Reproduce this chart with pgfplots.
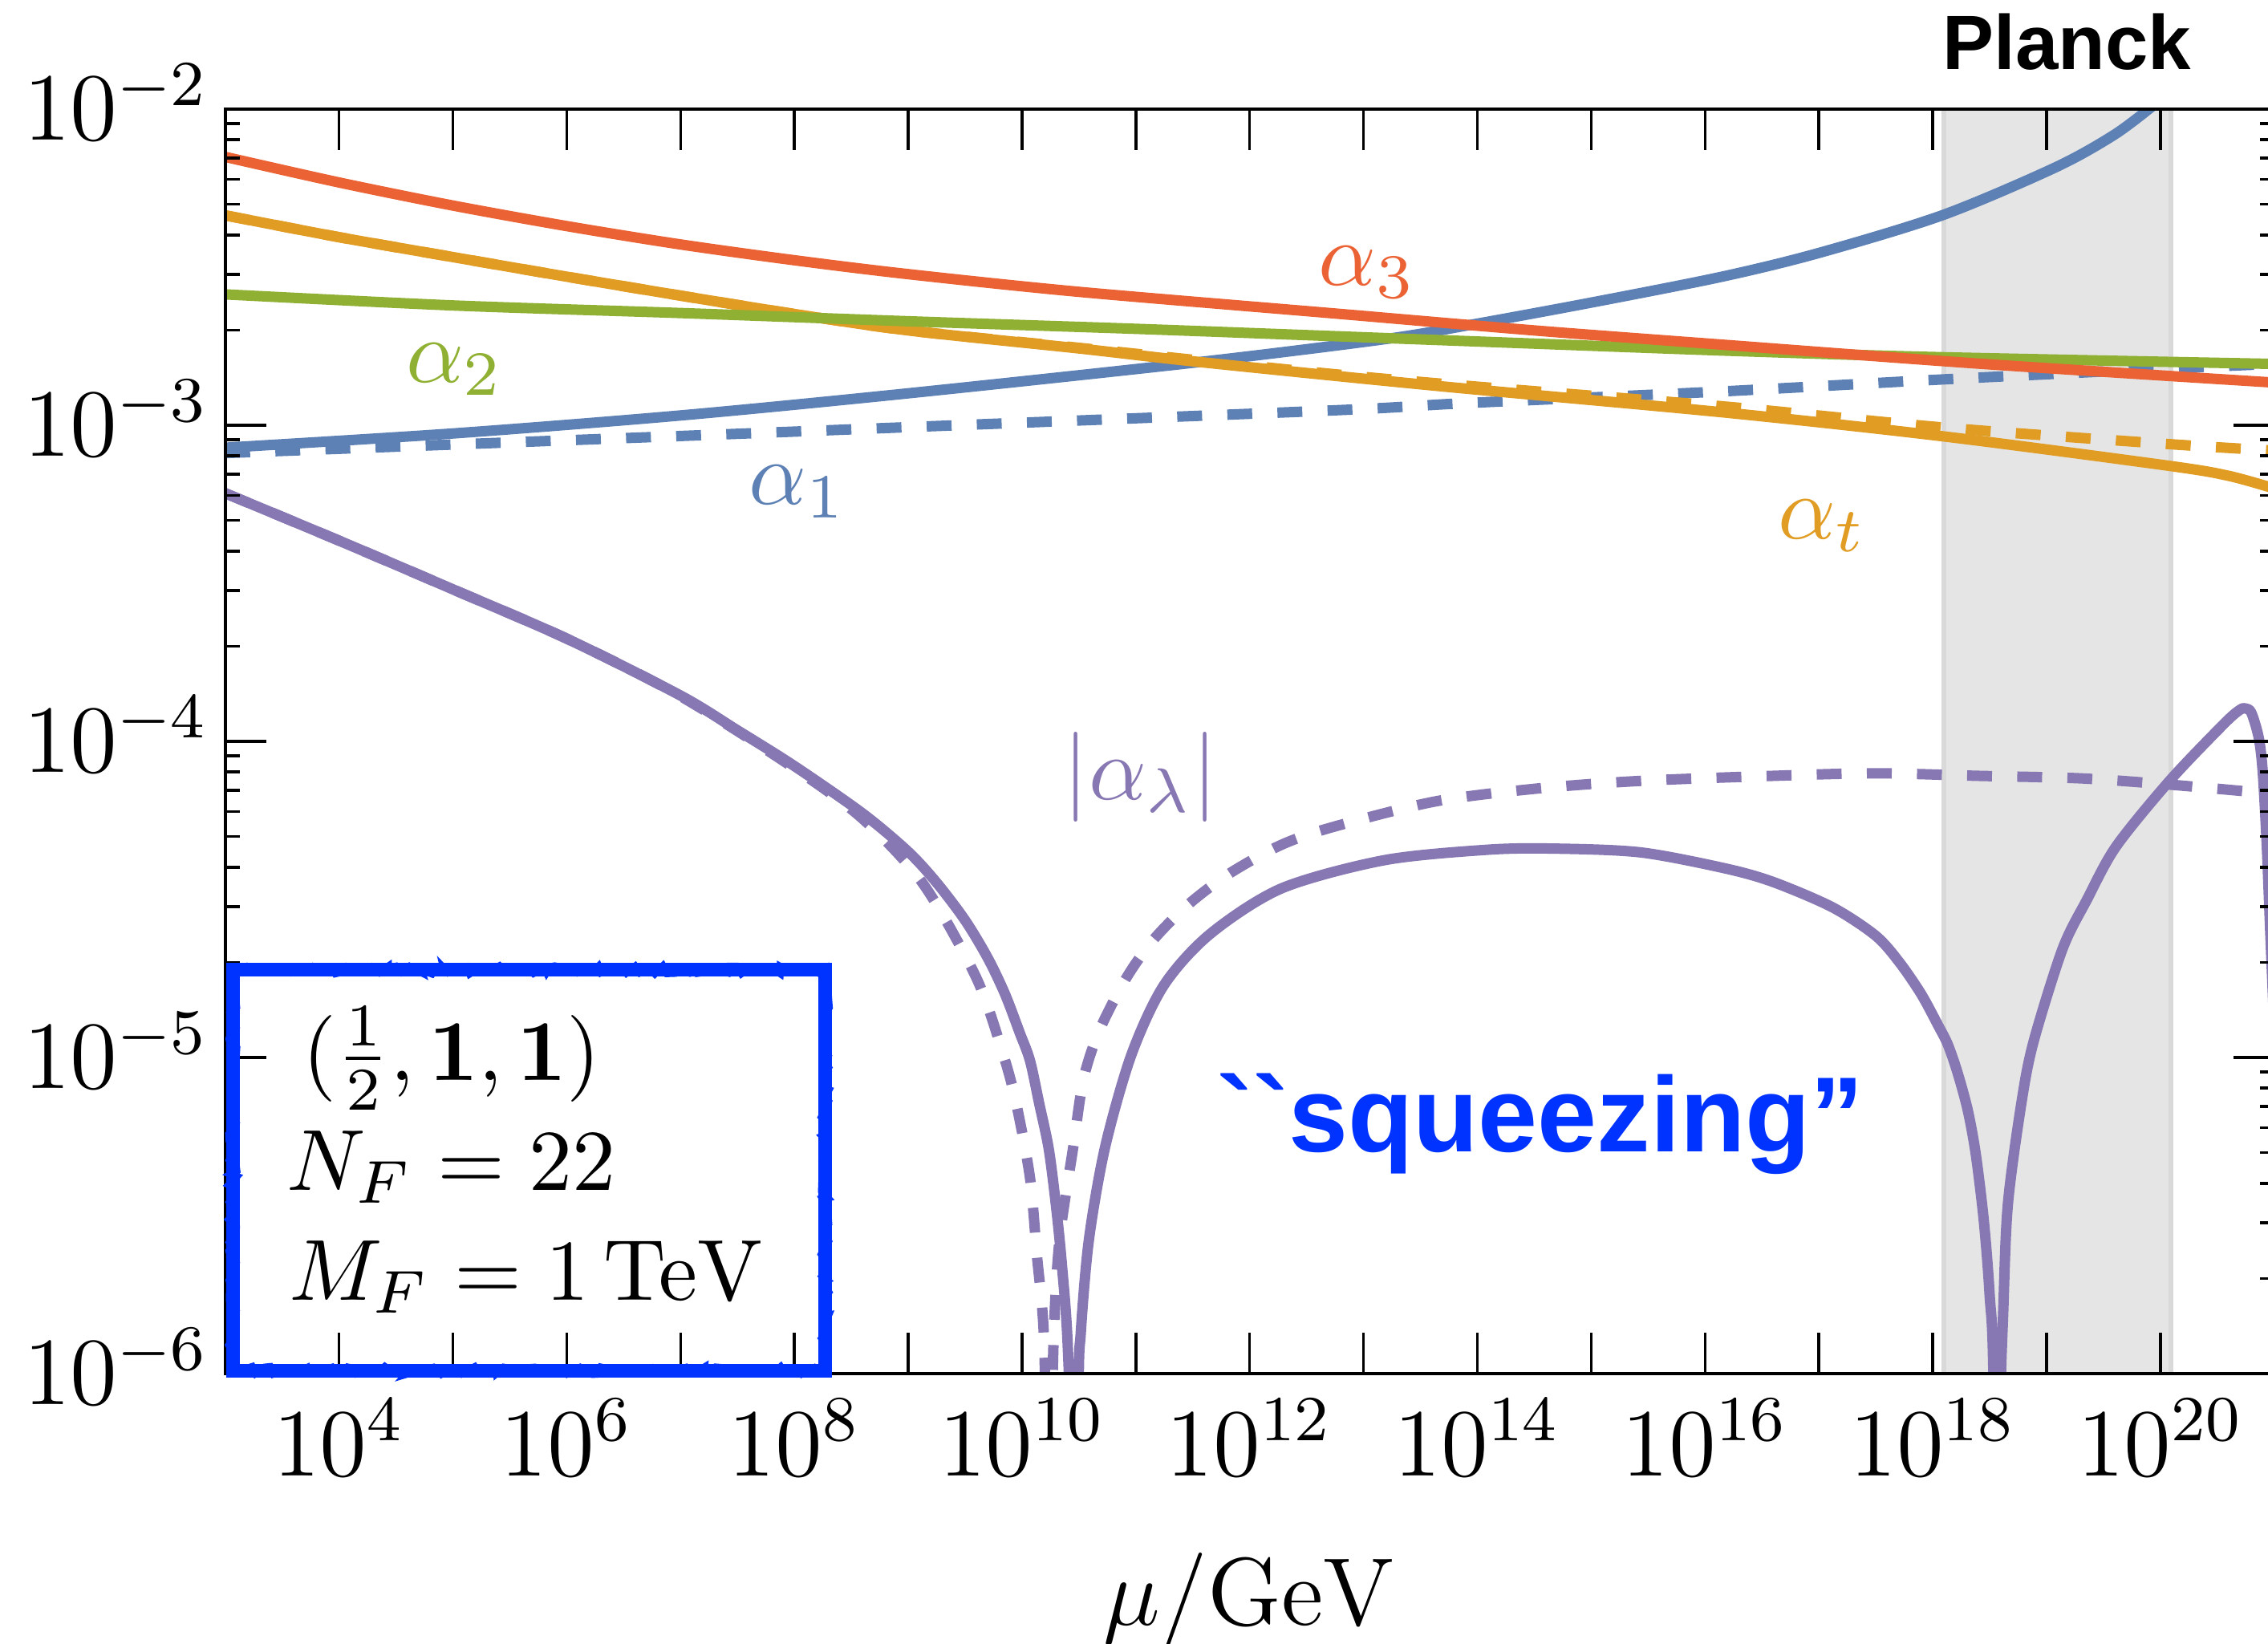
\RequirePackage{fix-cm}
\documentclass[border=0pt]{standalone}
\usepackage{pgfplots}
\usepackage{pgfplotstable}
\pgfplotsset{compat=1.18}
\usetikzlibrary{decorations.pathmorphing}

% Mathematica-style palette
\definecolor{cBlue}{RGB}{94,129,181}
\definecolor{cOrange}{RGB}{225,156,36}
\definecolor{cGreen}{RGB}{143,176,50}
\definecolor{cRed}{RGB}{235,98,53}
\definecolor{cPurple}{RGB}{135,120,179}
\definecolor{sqBlue}{RGB}{0,51,255}

% Helvetica-like bold for the annotations (no TeX ligature mapping)
\font\planckfont="Liberation Sans/B" at 9.6pt
\font\sqfont="Liberation Sans/B" at 13.3pt

% columns: l = log10(mu/GeV), v = log10(coupling)
\pgfplotstableread{
l v
3.0 -2.151
4.0 -2.232
5.0 -2.305
6.0 -2.370
7.0 -2.428
8.0 -2.478
9.0 -2.522
10.5 -2.578
12.7 -2.645
14.5 -2.700
16.15 -2.745
18.4 -2.805
21.0 -2.865
}\tabAthree

\pgfplotstableread{
l v
3.0 -2.586
5.0 -2.621
7.0 -2.645
9.0 -2.671
11.0 -2.695
12.73 -2.718
14.0 -2.735
16.18 -2.764
18.0 -2.784
21.0 -2.806
}\tabAtwo

\pgfplotstableread{
l v
3.0 -2.336
4.0 -2.405
5.0 -2.468
6.0 -2.530
7.0 -2.590
8.0 -2.648
9.0 -2.700
10.5 -2.757
11.56 -2.800
13.63 -2.875
16.18 -2.960
18.09 -3.035
20.07 -3.128
20.6 -3.160
21.0 -3.200
}\tabAt

\pgfplotstableread{
l v
3.0 -2.336
4.0 -2.405
5.0 -2.468
6.0 -2.530
7.0 -2.590
8.0 -2.648
9.0 -2.700
10.5 -2.755
11.56 -2.795
12.73 -2.838
13.9 -2.875
16.15 -2.940
18.09 -3.007
20.09 -3.060
21.0 -3.080
}\tabAtDash

\pgfplotstableread{
l v
3.0 -3.071
5.0 -3.026
7.0 -2.969
9.0 -2.899
11.56 -2.800
13.18 -2.728
13.9 -2.685
15.0 -2.612
16.15 -2.530
17.0 -2.455
18.09 -2.335
19.08 -2.184
19.6 -2.080
19.95 -1.985
}\tabAone

\pgfplotstableread{
l v
3.0 -3.088
5.0 -3.061
7.0 -3.034
9.0 -3.006
12.73 -2.953
13.9 -2.930
16.15 -2.893
18.09 -2.855
20.09 -2.820
21.0 -2.806
}\tabAoneDash

\pgfplotstableread{
l v
3.0 -3.215
4.0 -3.365
5.0 -3.519
6.0 -3.675
7.0 -3.855
7.5 -3.965
8.0 -4.078
8.6 -4.228
9.0 -4.349
9.25 -4.447
9.5 -4.566
9.7 -4.686
9.85 -4.799
9.98 -4.922
10.07 -5.010
10.15 -5.144
10.235 -5.290
10.30 -5.474
10.35 -5.655
10.40 -5.900
10.44 -6.380
10.47 -7.500
10.495 -6.100
10.517 -5.866
10.588 -5.575
10.73 -5.283
10.96 -4.992
11.245 -4.772
11.65 -4.610
12.28 -4.465
13.18 -4.376
14.08 -4.343
14.65 -4.339
15.43 -4.351
16.18 -4.402
16.6 -4.445
17.12 -4.525
17.5 -4.615
17.71 -4.700
17.9 -4.800
18.05 -4.900
18.134 -4.960
18.22 -5.050
18.31 -5.170
18.38 -5.310
18.45 -5.520
18.50 -5.750
18.535 -6.050
18.565 -7.500
18.59 -6.200
18.62 -5.800
18.66 -5.466
18.78 -5.142
18.886 -4.950
19.14 -4.657
19.356 -4.500
19.61 -4.333
20.08 -4.125
20.56 -3.944
20.70 -3.900
20.75 -3.896
20.80 -3.910
20.865 -3.990
20.90 -4.100
20.935 -4.330
20.965 -4.600
21.0 -4.900
}\tabAl

\pgfplotstableread{
l v
3.0 -3.215
4.0 -3.365
5.0 -3.519
6.0 -3.675
7.0 -3.857
8.0 -4.085
8.6 -4.245
9.13 -4.450
9.60 -4.749
9.836 -4.992
9.95 -5.147
10.07 -5.381
10.13 -5.623
10.19 -5.866
10.215 -6.300
10.235 -7.000
10.255 -6.300
10.28 -5.866
10.33 -5.575
10.45 -5.283
10.54 -5.068
10.68 -4.914
10.915 -4.749
11.155 -4.627
11.47 -4.513
11.83 -4.416
12.28 -4.327
12.73 -4.271
13.63 -4.190
14.53 -4.149
15.43 -4.125
16.6 -4.109
17.5 -4.101
18.4 -4.109
19.3 -4.117
20.09 -4.137
20.96 -4.165
21.0 -4.167
}\tabAlDash

\begin{document}
\begin{tikzpicture}
\begin{loglogaxis}[
  name=ax,
  scale only axis,
  width=255.4pt, height=157.6pt,
  xmin=1e3, xmax=1e21, ymin=1e-6, ymax=1e-2,
  xtick={1e4,1e5,1e6,1e7,1e8,1e9,1e10,1e11,1e12,1e13,1e14,1e15,1e16,1e17,1e18,1e19,1e20},
  xticklabels={$10^{4}$,{},$10^{6}$,{},$10^{8}$,{},$10^{10}$,{},$10^{12}$,{},$10^{14}$,{},$10^{16}$,{},$10^{18}$,{},$10^{20}$},
  xminorticks=false,
  ytick={1e-6,1e-5,1e-4,1e-3,1e-2},
  major tick length=5.1pt, minor tick length=1.8pt,
  every tick/.style={black, line width=0.35pt},
  axis line style={line width=0.4pt},
  ticklabel style={font=\fontsize{12}{14}\selectfont},
  xticklabel style={yshift=0.3pt},
  yticklabel style={anchor=base east, yshift=-3.86pt, xshift=1.5pt},
  xlabel={$\mu/\mathrm{GeV}$},
  xlabel style={at={(axis description cs:0.5,0)}, anchor=base, yshift=-31.3pt, font=\fontsize{12}{14}\selectfont},
  axis on top,
  clip mode=individual,
  every axis plot/.append style={line width=1.3pt, line join=round, smooth, tension=0.5},
]
% Planck band
\fill[gray!20] (axis cs:1.259e18,1e-6) rectangle (axis cs:1.23e20,1e-2);
\draw[black!15, line width=0.6pt] (axis cs:1.259e18,1e-6) -- (axis cs:1.259e18,1e-2);
\draw[black!15, line width=0.6pt] (axis cs:1.23e20,1e-6) -- (axis cs:1.23e20,1e-2);

\addplot[cBlue, dash pattern=on 3.1pt off 3.15pt] table[x expr=10^(\thisrow{l}), y expr=10^(\thisrow{v})] {\tabAoneDash};
\addplot[cOrange, dash pattern=on 3.1pt off 3.15pt] table[x expr=10^(\thisrow{l}), y expr=10^(\thisrow{v})] {\tabAtDash};
\addplot[cPurple, dash pattern=on 3.1pt off 3.15pt] table[x expr=10^(\thisrow{l}), y expr=10^(\thisrow{v})] {\tabAlDash};
\addplot[cBlue] table[x expr=10^(\thisrow{l}), y expr=10^(\thisrow{v})] {\tabAone};
\addplot[cOrange] table[x expr=10^(\thisrow{l}), y expr=10^(\thisrow{v})] {\tabAt};
\addplot[cGreen] table[x expr=10^(\thisrow{l}), y expr=10^(\thisrow{v})] {\tabAtwo};
\addplot[cRed] table[x expr=10^(\thisrow{l}), y expr=10^(\thisrow{v})] {\tabAthree};
\addplot[cPurple] table[x expr=10^(\thisrow{l}), y expr=10^(\thisrow{v})] {\tabAl};

% curve labels
\begin{scope}[every node/.style={anchor=base west, inner sep=0pt, font=\fontsize{11.2}{13}\selectfont}]
\node[text=cGreen] at (axis cs:3.758e4,1.371e-3) {$\alpha_2$};
\node[text=cBlue] at (axis cs:3.855e7,5.61e-4) {$\alpha_1$};
\node[text=cRed] at (axis cs:3.917e12,2.78e-3) {$\alpha_3$};
\node[text=cOrange] at (axis cs:4.236e16,4.385e-4) {$\alpha_t$};
\node[text=cPurple] at (axis cs:2.25e10,6.56e-5) {$|\alpha_\lambda|$};
\end{scope}

% benchmark box text
\begin{scope}[every node/.style={anchor=base west, inner sep=0pt, font=\fontsize{10.8}{13}\selectfont}]
\node at (axis cs:4.62e3,8.49e-6) {$(\frac{1}{2},\mathbf{1},\mathbf{1})$};
\node at (axis cs:3.34e3,3.81e-6) {$N_F=22$};
\node at (axis cs:3.51e3,1.706e-6) {$M_F=1\,\mathrm{TeV}$};
\end{scope}

\node[anchor=base west, inner sep=0pt, text=sqBlue] at (axis cs:5.07e11,5.04e-6) {\sqfont ``squeezing”};
\node[anchor=base, inner sep=0pt, yshift=4.9pt] at (axis cs:1.514e19,1e-2) {\planckfont Planck};

\coordinate (bsw) at (axis cs:1167,1.023e-6);
\coordinate (bne) at (axis cs:1.862e8,1.892e-5);
\end{loglogaxis}

% hand-drawn looking frame
\pgfmathsetseed{7}
\draw[sqBlue, line width=1.7pt] (bsw) rectangle (bne);
\draw[sqBlue, line width=0.9pt, decorate, decoration={random steps, segment length=0.7pt, amplitude=0.5pt}] (bsw) rectangle (bne);

\pgfresetboundingbox
\path ([shift={(-28.07pt,-33.7pt)}]ax.south west) rectangle ([shift={(-0.77pt,13.6pt)}]ax.north east);
\end{tikzpicture}
\end{document}
